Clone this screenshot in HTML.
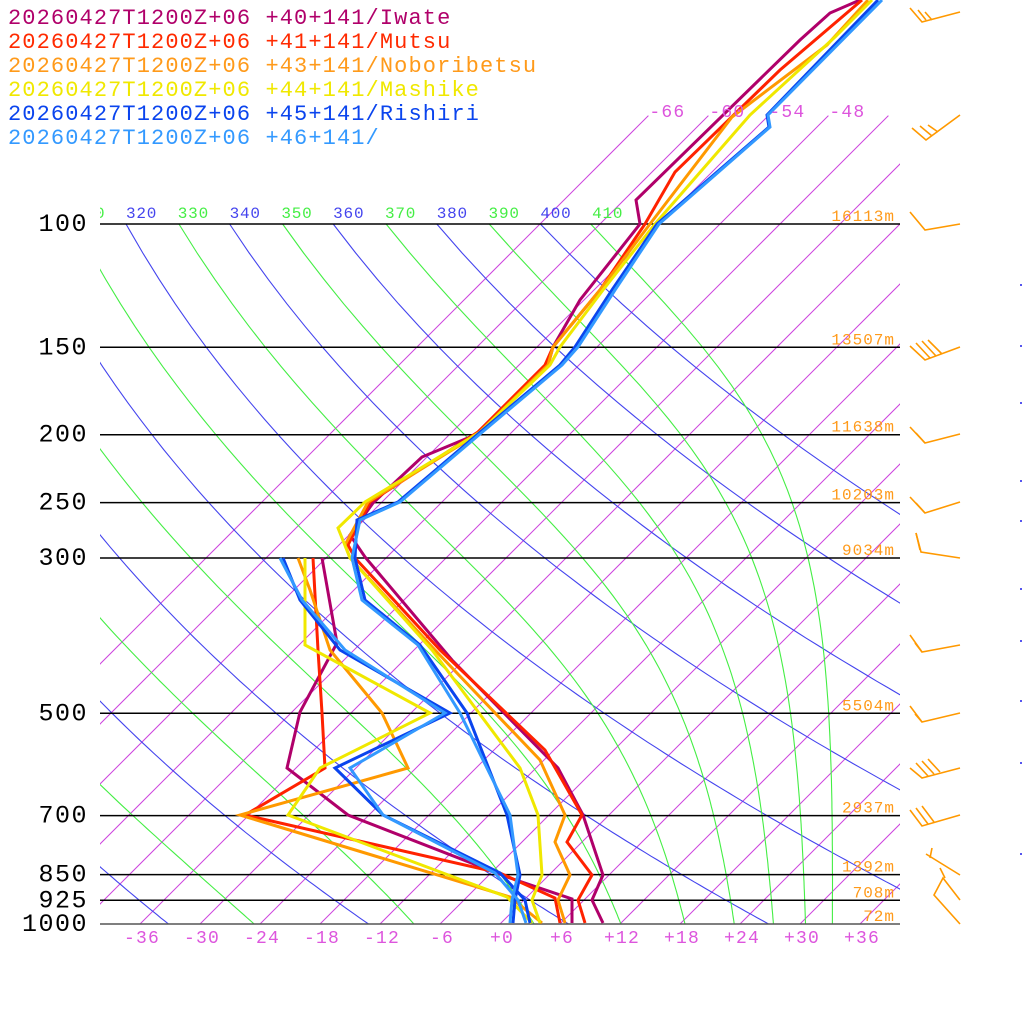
<!DOCTYPE html>
<html><head><meta charset="utf-8"><style>
html,body{margin:0;padding:0;background:#fff;}
svg{display:block;}
text{font-family:"Liberation Mono",monospace;}
</style></head><body>
<svg id="s" width="1024" height="1024" viewBox="0 0 1024 1024" xmlns="http://www.w3.org/2000/svg">
<rect width="1024" height="1024" fill="#fff"/>
<defs><clipPath id="c"><rect x="100" y="0" width="800" height="924"/></clipPath></defs>
<g id="grid" clip-path="url(#c)"></g>
<g id="plines"></g>
<g id="snd" fill="none" stroke-width="3" stroke-linejoin="miter"></g>
<g id="labels"></g>
<g id="barbs" fill="none" stroke="#ff9900" stroke-width="1.6">
<polyline points="910,8 922,22 960,12"/><polyline points="918,10 926,20"/><polyline points="925,12 932,20"/>
<polyline points="912,128 926,140 960,115"/><polyline points="920,126 932,136"/><polyline points="928,125 938,132"/>
<polyline points="910,212 925,230 960,224"/>
<polyline points="910,346 925,360 960,347"/><polyline points="916,343 930,358"/><polyline points="922,341 936,356"/><polyline points="928,340 942,354"/>
<polyline points="910,427 925,443 960,434"/><polyline points="916,433 925,443"/>
<polyline points="910,497 925,513 960,502"/><polyline points="916,503 925,513"/>
<polyline points="916,533 921,552 960,558"/><polyline points="916,533 920,550"/>
<polyline points="910,635 922,652 960,645"/><polyline points="915,643 922,652"/>
<polyline points="910,706 922,722 960,713"/><polyline points="915,714 922,722"/>
<polyline points="910,768 922,778 960,768"/><polyline points="916,763 928,776"/><polyline points="922,761 934,774"/><polyline points="928,759 940,772"/>
<polyline points="910,810 922,826 960,815"/><polyline points="916,808 928,824"/><polyline points="922,806 934,822"/>
<polyline points="926,854 960,875"/><polyline points="932,848 930,858"/>
<polyline points="960,900 943,878 934,895 960,924"/><polyline points="940,868 945,878"/>
</g>
<g fill="#5555ee"><rect x="1020" y="284" width="2" height="2"/><rect x="1020" y="345" width="2" height="2"/><rect x="1020" y="402" width="2" height="2"/><rect x="1020" y="480" width="2" height="2"/><rect x="1020" y="520" width="2" height="2"/><rect x="1020" y="588" width="2" height="2"/><rect x="1020" y="640" width="2" height="2"/><rect x="1020" y="700" width="2" height="2"/><rect x="1020" y="762" width="2" height="2"/><rect x="1020" y="853" width="2" height="2"/></g>
<g font-size="22" style="letter-spacing:1.1px">
<text x="8" y="24" fill="#b0006a">20260427T1200Z+06 +40+141/Iwate</text>
<text x="8" y="48" fill="#ff2a00">20260427T1200Z+06 +41+141/Mutsu</text>
<text x="8" y="72" fill="#ff9a1a">20260427T1200Z+06 +43+141/Noboribetsu</text>
<text x="8" y="96" fill="#f0e800">20260427T1200Z+06 +44+141/Mashike</text>
<text x="8" y="120" fill="#0a44ee">20260427T1200Z+06 +45+141/Rishiri</text>
<text x="8" y="144" fill="#3399ff">20260427T1200Z+06 +46+141/</text>
</g>
</svg>
<script>
(function(){
var NS="http://www.w3.org/2000/svg";
function Y(p){return 924-304*Math.log(1000/p);}
function X(T,p){return 500+10*T+(924-Y(p));}
function el(par,tag,at,txt){var e=document.createElementNS(NS,tag);for(var k in at)e.setAttribute(k,at[k]);if(txt!==undefined)e.textContent=txt;document.getElementById(par).appendChild(e);return e;}
var P=[];for(var p=1000;p>=99.9;p-=10)P.push(p);
for(var T=-66;T<=48;T+=6){el("grid","line",{x1:X(T,1000),y1:924,x2:X(T,70),y2:Y(70),stroke:"#cc44dd","stroke-width":1});}
for(var th=240;th<=400;th+=20){var pts=[];for(var i=0;i<P.length;i++){var t=th*Math.pow(P[i]/1000,0.2857)-273.15;pts.push(X(t,P[i]).toFixed(1)+","+Y(P[i]).toFixed(1));}
el("grid","polyline",{points:pts.join(" "),fill:"none",stroke:"#4444ee","stroke-width":1.1});}
function the(Tc,p){var TK=Tc+273.15;var es=6.112*Math.exp(17.67*Tc/(Tc+243.5));var r=0.622*es/(p-es);if(r<0)r=0;return TK*Math.pow(1000/p,0.2854*(1-0.28*r))*Math.exp((3376/TK-2.54)*r*(1+0.81*r));}
for(var te=250;te<=410;te+=20){var pts=[];for(var i=0;i<P.length;i++){var lo=-160,hi=60;for(var k=0;k<50;k++){var m=(lo+hi)/2;if(the(m,P[i])>te)hi=m;else lo=m;}pts.push(X(lo,P[i]).toFixed(1)+","+Y(P[i]).toFixed(1));}
el("grid","polyline",{points:pts.join(" "),fill:"none",stroke:"#44ee44","stroke-width":1.1});}
var PL=[[100,"100"],[150,"150"],[200,"200"],[250,"250"],[300,"300"],[500,"500"],[700,"700"],[850,"850"],[925,"925"],[1000,"1000"]];
PL.forEach(function(a){var y=Y(a[0]);el("plines","line",{x1:100,y1:y,x2:900,y2:y,stroke:a[0]==1000?"#555":"#000","stroke-width":1.5});
el("labels","text",{x:88,y:y+7,"text-anchor":"end","font-size":25,fill:"#000",style:"letter-spacing:1.5px"},a[1]);});
var H=[[100,"16113m"],[150,"13507m"],[200,"11638m"],[250,"10203m"],[300,"9034m"],[500,"5504m"],[700,"2937m"],[850,"1392m"],[925,"708m"],[1000,"72m"]];
H.forEach(function(a){el("labels","text",{x:895,y:Y(a[0])-3,"text-anchor":"end","font-size":16,fill:"#ff9a1a",style:"letter-spacing:1px"},a[1]);});
for(var T=-36;T<=36;T+=6){var s=(T>=0?"+":"")+T;el("labels","text",{x:500+10*T+2,y:943,"text-anchor":"middle","font-size":18,fill:"#dd55dd",style:"letter-spacing:1.2px"},s);}
[-66,-60,-54,-48].forEach(function(T){el("labels","text",{x:X(T,70)+1,y:117,"font-size":18,fill:"#dd55dd",style:"letter-spacing:1.2px"},""+T);});
var tl=[[310,"#44ee44"],[320,"#4444ee"],[330,"#44ee44"],[340,"#4444ee"],[350,"#44ee44"],[360,"#4444ee"],[370,"#44ee44"],[380,"#4444ee"],[390,"#44ee44"],[400,"#4444ee"],[410,"#44ee44"]];
tl.forEach(function(a){var t=a[0]*Math.pow(0.1,0.2857)-273.15;var x=X(t,100);var e=el("labels","text",{x:x,y:218,"font-size":16,fill:a[1],style:"letter-spacing:0.8px"},""+a[0]);if(a[0]==310){e.setAttribute("clip-path","url(#c)");}});
var S=[
["#b0006a","860,0 830,13 800,40 636,200 640,224 580,300 553,347 548,365 475,435 422,457 373,503 350,535 365,557 452,660 558,768 583,815 603,875 592,900 603,923"],
["#b0006a","322,558 337,643 300,712 287,768 348,815 510,878 572,899 572,923"],
["#ff2200","862,0 780,70 675,172 645,224 600,290 553,347 545,365 478,432 370,502 348,545 355,558 440,650 545,750 582,815 567,842 592,875 578,900 585,923"],
["#ff2200","313,558 318,650 322,713 325,768 245,815 500,873 555,898 560,923"],
["#ff9900","868,0 827,45 732,117 650,224 600,290 553,347 548,365 478,434 368,502 345,545 350,558 435,650 540,760 565,815 555,842 570,875 558,900 565,923"],
["#ff9900","298,558 310,590 330,650 382,713 408,768 240,815 510,897 542,923"],
["#f0e800","872,0 835,37 750,115 655,224 603,290 560,347 550,365 480,432 365,502 338,528 350,558 432,650 520,768 538,815 542,875 532,900 540,923"],
["#f0e800","305,558 305,645 430,713 320,768 288,815 507,897 532,923"],
["#0a44ee","878,0 767,115 769,127 657,224 612,290 575,347 560,365 478,434 398,502 357,520 355,558 365,600 420,645 467,713 507,815 520,875 515,900 513,923"],
["#0a44ee","283,558 300,600 340,650 450,713 335,768 383,815 500,873 525,900 530,923"],
["#3399ff","882,0 768,115 770,127 659,224 615,290 578,347 562,365 480,434 400,502 360,520 352,558 362,600 418,645 460,713 510,815 518,875 512,900 510,923"],
["#3399ff","280,558 302,600 345,650 445,713 350,768 383,815 495,873 518,900 526,923"]];
S.forEach(function(a){el("snd","polyline",{points:a[1],stroke:a[0]});});
})();
</script>
</body></html>
